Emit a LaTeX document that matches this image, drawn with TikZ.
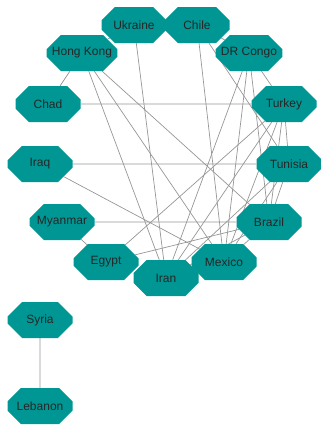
\documentclass[tikz,border=0pt]{standalone}
\usepackage{fontspec}
\setmainfont{Liberation Sans}
\usetikzlibrary{shapes.misc,backgrounds}
\definecolor{nodeteal}{RGB}{0,150,148}
\definecolor{edgegrey}{RGB}{150,150,150}
\tikzset{
  country/.style={chamfered rectangle, chamfered rectangle xsep=10pt,
    chamfered rectangle ysep=9pt, minimum width=65pt, minimum height=36pt,
    inner sep=0pt, fill=nodeteal, text=black!85, font=\fontsize{12}{14}\selectfont},
  link/.style={draw=edgegrey, line width=0.7pt}
}
\begin{document}
\begin{tikzpicture}[x=1pt,y=-1pt]
\useasboundingbox (0,0) rectangle (321,426);
% countries
\node[country] (ukraine) at (134,25) {Ukraine};
\node[country] (chile) at (197,25) {Chile};
\node[country] (hongkong) at (82,53) {Hong Kong};
\node[country] (drcongo) at (249,53) {DR Congo};
\node[country] (chad) at (48,104) {Chad};
\node[country] (turkey) at (284,104) {Turkey};
\node[country] (iraq) at (40,164) {Iraq};
\node[country] (tunisia) at (289,164) {Tunisia};
\node[country] (myanmar) at (62,222) {Myanmar};
\node[country] (brazil) at (269,222) {Brazil};
\node[country] (egypt) at (106,262) {Egypt};
\node[country] (mexico) at (224,262) {Mexico};
\node[country] (iran) at (166,278) {Iran};
\node[country] (syria) at (40,320) {Syria};
\node[country] (lebanon) at (40,406) {Lebanon};
% links
\begin{scope}[on background layer]
\path[link] (hongkong) -- (ukraine);
\path[link] (chile) -- (drcongo);
\path[link] (hongkong) -- (chad);
\path[link] (chad) -- (turkey);
\path[link] (iraq) -- (tunisia);
\path[link] (iraq) -- (mexico);
\path[link] (myanmar) -- (brazil);
\path[link] (myanmar) -- (egypt);
\path[link] (egypt) -- (brazil);
\path[link] (syria) -- (lebanon);
\path[link] (hongkong) -- (iran);
\path[link] (hongkong) -- (mexico);
\path[link] (hongkong) -- (brazil);
\path[link] (ukraine) -- (iran);
\path[link] (chile) -- (mexico);
\path[link] (chile) -- (tunisia);
\path[link] (drcongo) -- (turkey);
\path[link] (drcongo) -- (iran);
\path[link] (drcongo) -- (mexico);
\path[link] (drcongo) -- (brazil);
\path[link] (turkey) -- (tunisia);
\path[link] (turkey) -- (iran);
\path[link] (turkey) -- (egypt);
\path[link] (turkey) -- (mexico);
\path[link] (turkey) -- (brazil);
\path[link] (tunisia) -- (iran);
\path[link] (tunisia) -- (mexico);
\path[link] (tunisia) -- (brazil);
\path[link] (iran) -- (brazil);
\path[link] (mexico) -- (brazil);
\end{scope}
\end{tikzpicture}
\end{document}
